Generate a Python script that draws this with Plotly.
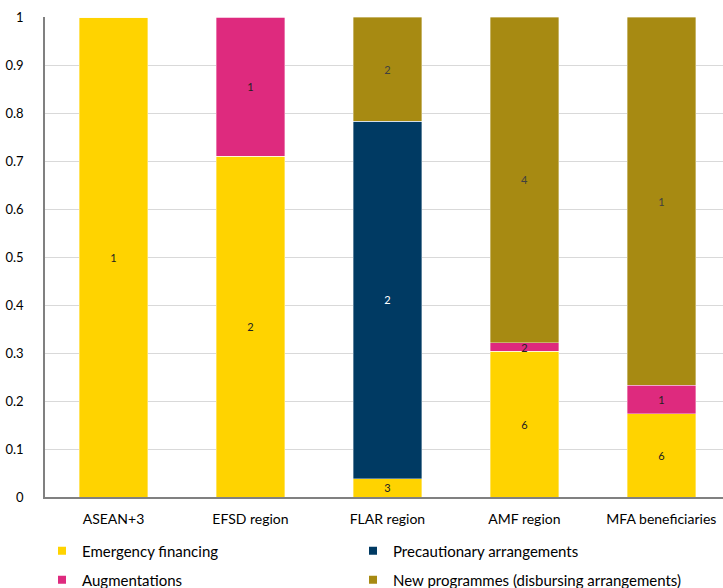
import plotly.graph_objects as go

categories = ["ASEAN+3", "EFSD region", "FLAR region", "AMF region", "MFA beneficiaries"]

emergency = [1.0, 0.71, 0.038, 0.304, 0.173]
precautionary = [0, 0, 0.745, 0, 0]
augmentations = [0, 0.29, 0, 0.017, 0.06]
new_programmes = [0, 0, 0.217, 0.679, 0.767]

emergency_lbl = ["1", "2", "3", "6", "6"]
precautionary_lbl = ["", "", "2", "", ""]
augmentations_lbl = ["", "1", "", "2", "1"]
new_programmes_lbl = ["", "", "2", "4", "1"]

series = [
    ("Emergency financing", emergency, emergency_lbl, "#FFD300", "#222222"),
    ("Precautionary arrangements", precautionary, precautionary_lbl, "#003A63", "#FFFFFF"),
    ("Augmentations", augmentations, augmentations_lbl, "#DE2A7E", "#222222"),
    ("New programmes (disbursing arrangements)", new_programmes, new_programmes_lbl, "#A78A12", "#404040"),
]

W, H = 723, 588

# legend slots (pixels): (left x, centre y)
legend_ids = ["legend", "legend2", "legend3", "legend4"]
legend_pos = [(42, 551), (353, 551), (42, 580), (353, 580)]

fig = go.Figure()
for name, vals, lbls, col, tcol in series:
    fig.add_trace(go.Bar(
        name=name, x=categories, y=vals, text=lbls,
        marker=dict(color=col, line=dict(color="rgba(255,255,255,0.6)", width=0.6)),
        textposition="inside", insidetextanchor="middle", textangle=0,
        textfont=dict(size=11, color=tcol),
        width=0.5, hoverinfo="skip", showlegend=False,
    ))
for (name, vals, lbls, col, tcol), leg in zip(series, legend_ids):
    fig.add_trace(go.Scatter(
        name=name, x=[None], y=[None], mode="markers",
        marker=dict(symbol="square", size=8, color=col),
        legend=leg, showlegend=True, hoverinfo="skip",
    ))

legends = {}
for leg, (lx, ly) in zip(legend_ids, legend_pos):
    legends[leg] = dict(orientation="h", xref="container", yref="container",
                        x=lx / W, xanchor="left", y=(H - ly) / H, yanchor="middle",
                        font=dict(size=15, color="#000000"), bgcolor="rgba(0,0,0,0)",
                        itemclick=False, itemdoubleclick=False, itemsizing="trace")

fig.update_layout(
    barmode="stack",
    width=W, height=H,
    margin=dict(l=45, r=0, t=17, b=91),
    paper_bgcolor="white", plot_bgcolor="white",
    font=dict(family="Lato", size=13, color="#000000"),
    uniformtext=dict(minsize=11, mode="show"),
    showlegend=True,
    hovermode=False,
    **legends,
    xaxis=dict(range=[-0.5, 4.45], showline=True, linecolor="#808080", linewidth=1.5,
               showgrid=False, ticks="", ticklen=0, ticklabelstandoff=8,
               tickfont=dict(size=14), automargin=False),
    yaxis=dict(range=[0, 1], dtick=0.1, showline=True, linecolor="#808080", linewidth=1.5,
               showgrid=True, gridcolor="#D9D9D9", gridwidth=1, zeroline=False,
               ticks="", ticklen=0, ticklabelstandoff=17, tickfont=dict(size=13),
               tickformat="~g", automargin=False),
)

fig.write_html("out.html",
               config={"displayModeBar": False, "staticPlot": False},
               post_script="document.body.style.margin='0';document.body.style.padding='0';"
                           "document.body.style.overflow='hidden';")
